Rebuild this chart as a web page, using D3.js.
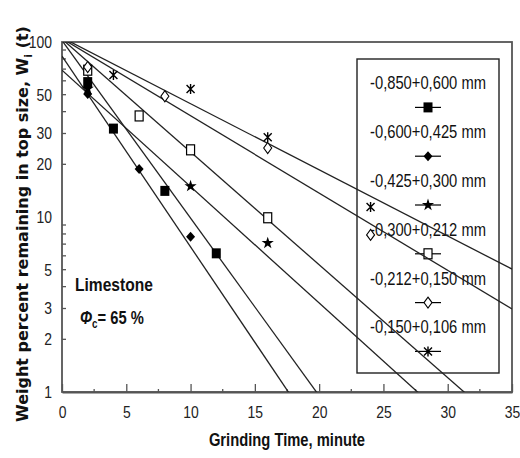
<!DOCTYPE html>
<html>
<head>
<meta charset="utf-8">
<script src="https://cdn.jsdelivr.net/npm/d3@7"></script>
<style>
  html, body { margin: 0; padding: 0; background: #fff; }
  svg { display: block; font-family: 'Liberation Sans', Arial, sans-serif; }
</style>
</head>
<body>
<svg id="chart" width="520" height="458"></svg>
<script>
// Size fractions (mm) in the legend order
const fractionLabels = [
  "-0,850+0,600 mm",
  "-0,600+0,425 mm",
  "-0,425+0,300 mm",
  "-0,300+0,212 mm",
  "-0,212+0,150 mm",
  "-0,150+0,106 mm"
];

// Grinding times (min) at which each fraction was sampled
const sampleTimes = [
  [2, 4, 8, 12],
  [2, 6, 10],
  [2, 10, 16],
  [2, 6, 10, 16],
  [2, 8, 16, 24],
  [4, 10, 16, 24]
];

// Weight percent remaining in the top size, W_i(t)
const weightRemaining = [
  [59, 32, 14.1, 6.2],
  [50.5, 18.8, 7.7],
  [54, 15, 7.1],
  [69, 37.8, 24.2, 9.9],
  [72, 49, 24.8, 7.9],
  [64.8, 53.9, 28.6, 11.4]
];

// First-order fits W(t) = W0 * 10^(-r t)
const fitW0 = [102, 83, 69, 104, 104.7, 106];
const fitDecadeRate = [0.1015, 0.109, 0.0665, 0.0645, 0.04416, 0.0378];

// Marker style per fraction
const markerKinds = ["squareFilled", "diamondFilled", "starFilled", "squareOpen", "diamondOpen", "asterisk"];

// Axis ticks
const xTicks = [0, 5, 10, 15, 20, 25, 30, 35];
const xMinorTicks = [2.5, 7.5, 12.5, 17.5, 22.5, 27.5, 32.5];
const yTickLabels = [1, 2, 3, 5, 10, 20, 30, 50, 100];

const svg = d3.select("#chart");
const ink = "#111";
const axisInk = "#555";
const NARROW = 0.82; // horizontal squeeze giving a condensed face

// Places a condensed text at (px, py) in page coordinates
function narrow(sel, px, py) {
  return sel.attr("x", px / NARROW).attr("y", py).attr("transform", `scale(${NARROW},1)`);
}

const x = d3.scaleLinear().domain([0, 35]).range([62, 512]);
const y = d3.scaleLog().domain([1, 100]).range([392, 42]);

const series = fractionLabels.map((label, i) => ({
  label,
  kind: markerKinds[i],
  w0: fitW0[i],
  rate: fitDecadeRate[i],
  points: sampleTimes[i].map((t, j) => ({ t, w: weightRemaining[i][j] }))
}));

// Plot frame
svg.append("rect")
  .attr("x", x(0)).attr("y", y(100))
  .attr("width", x(35) - x(0)).attr("height", y(1) - y(100))
  .attr("fill", "none").attr("stroke", axisInk).attr("stroke-width", 1.8);

// X axis
const xAxis = d3.axisBottom(x).tickValues(xTicks).tickSizeInner(-8).tickSizeOuter(0)
  .tickPadding(0).tickFormat(d3.format("d"));
const gx = svg.append("g").attr("transform", `translate(0,${y(1)})`).call(xAxis);
gx.attr("font-family", null);
gx.select(".domain").attr("stroke", axisInk).attr("stroke-width", 1.8);
gx.selectAll(".tick line").attr("stroke", axisInk).attr("stroke-width", 1.3);
gx.selectAll(".tick text")
  .attr("font-size", 17).attr("fill", "#222")
  .attr("y", 26).attr("dy", null)
  .attr("transform", `scale(${NARROW},1)`);
svg.append("g").selectAll("line").data(xMinorTicks).join("line")
  .attr("x1", d => x(d)).attr("x2", d => x(d))
  .attr("y1", y(1)).attr("y2", y(1) - 3)
  .attr("stroke", axisInk).attr("stroke-width", 1.3);

// Y axis (log)
const yAxis = d3.axisLeft(y).tickValues(yTickLabels).tickSize(0).tickPadding(0)
  .tickFormat(d3.format("d"));
const gy = svg.append("g").attr("transform", `translate(${x(0)},0)`).call(yAxis);
gy.attr("font-family", null);
gy.select(".domain").remove();
gy.selectAll(".tick text")
  .attr("font-size", 17).attr("fill", "#222")
  .attr("x", -10 / NARROW)
  .attr("transform", `scale(${NARROW},1)`);
const yMinor = [];
[1, 10].forEach(dec => { for (let k = 2; k <= 9; k++) yMinor.push(dec * k); });
svg.append("g").selectAll("line").data(yMinor).join("line")
  .attr("x1", x(0)).attr("x2", x(0) + 4)
  .attr("y1", d => y(d)).attr("y2", d => y(d))
  .attr("stroke", axisInk).attr("stroke-width", 1.3);

// Axis titles
narrow(svg.append("text"), (x(0) + x(35)) / 2, 446)
  .attr("text-anchor", "middle").attr("font-size", 18).attr("font-weight", "bold").attr("fill", ink)
  .text("Grinding Time, minute");

const yt = svg.append("text")
  .attr("transform", "translate(28,224) rotate(-90)")
  .attr("text-anchor", "middle")
  .style("font-family", "'DejaVu Sans', Verdana, sans-serif")
  .attr("font-size", 16).attr("font-weight", "bold").attr("fill", ink);
yt.append("tspan").text("Weight percent remaining in top size, W");
yt.append("tspan").attr("font-size", 11).attr("dy", 4).text("i");
yt.append("tspan").attr("dy", -4).text(" (t)");

// Material annotation
narrow(svg.append("text"), 75, 291)
  .attr("font-size", 19).attr("font-weight", "bold").attr("fill", ink)
  .text("Limestone");
const phi = narrow(svg.append("text"), 80, 324)
  .attr("font-size", 18).attr("font-weight", "bold").attr("fill", ink);
phi.append("tspan").attr("font-style", "italic").text("Φ");
phi.append("tspan").attr("font-size", 12).attr("dy", 4).text("c");
phi.append("tspan").attr("dy", -4).text("= 65 %");

// Legend box
const legend = { x0: 357, y0: 59, x1: 499, y1: 373, cx: 428, firstText: 83, step: 48.8 };
svg.append("rect")
  .attr("x", legend.x0).attr("y", legend.y0)
  .attr("width", legend.x1 - legend.x0).attr("height", legend.y1 - legend.y0)
  .attr("fill", "none").attr("stroke", "#222").attr("stroke-width", 1.4);

// Marker drawing
function drawMarker(g, kind) {
  switch (kind) {
    case "squareFilled":
      g.append("rect").attr("x", -4.5).attr("y", -5).attr("width", 9).attr("height", 10).attr("fill", "#000");
      break;
    case "diamondFilled":
      g.append("path").attr("d", "M0,-5L4.5,0L0,5L-4.5,0Z").attr("fill", "#000");
      break;
    case "starFilled":
      g.append("path").attr("d", d3.symbol(d3.symbolStar, 46)()).attr("fill", "#000");
      break;
    case "squareOpen":
      g.append("rect").attr("x", -4).attr("y", -5).attr("width", 8).attr("height", 10)
        .attr("fill", "#fff").attr("stroke", "#000").attr("stroke-width", 1.2);
      break;
    case "diamondOpen":
      g.append("path").attr("d", "M0,-5.5L4,0L0,5.5L-4,0Z")
        .attr("fill", "#fff").attr("stroke", "#000").attr("stroke-width", 1.1);
      break;
    case "asterisk":
      g.append("path").attr("d", "M-4,-4L4,4M-4,4L4,-4M0,-5L0,5")
        .attr("fill", "none").attr("stroke", "#000").attr("stroke-width", 1.4);
      break;
  }
}

series.forEach((s, i) => {
  const ty = legend.firstText + i * legend.step;
  narrow(svg.append("text"), legend.cx, ty)
    .attr("dy", "0.36em")
    .attr("text-anchor", "middle").attr("font-size", 18).attr("fill", ink)
    .text(s.label);
  const my = ty + legend.step / 2;
  svg.append("line")
    .attr("x1", legend.cx - 13).attr("x2", legend.cx + 13)
    .attr("y1", my).attr("y2", my)
    .attr("stroke", "#000").attr("stroke-width", 1.2);
  drawMarker(svg.append("g").attr("transform", `translate(${legend.cx},${my})`), s.kind);
});

// Fit lines, clipped to the plot area
svg.append("clipPath").attr("id", "plotClip")
  .append("rect").attr("x", x(0)).attr("y", y(100))
  .attr("width", x(35) - x(0)).attr("height", y(1) - y(100));

const fitLine = d3.line().x(d => x(d.t)).y(d => y(d.w));
const lineLayer = svg.append("g").attr("clip-path", "url(#plotClip)");
series.forEach(s => {
  const ends = [0, 35].map(t => ({ t, w: s.w0 * Math.pow(10, -s.rate * t) }));
  lineLayer.append("path")
    .attr("d", fitLine(ends))
    .attr("fill", "none").attr("stroke", "#222").attr("stroke-width", 1.3);
});

// Data markers
series.forEach(s => {
  s.points.forEach(p => {
    drawMarker(svg.append("g").attr("transform", `translate(${x(p.t)},${y(p.w)})`), s.kind);
  });
});
</script>
</body>
</html>
